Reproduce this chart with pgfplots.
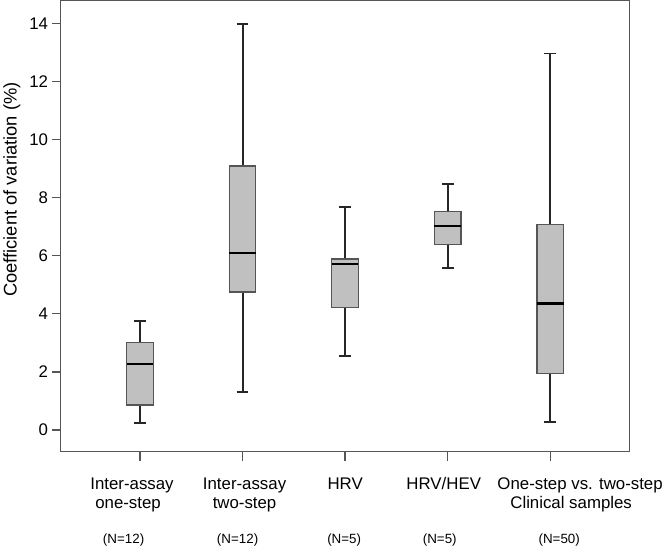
\documentclass[border=0pt]{standalone}
\usepackage{fontspec}
\setmainfont{Liberation Sans}
\usepackage{pgfplots}
\pgfplotsset{compat=1.18}
\usepgfplotslibrary{statistics}
\definecolor{boxgray}{RGB}{192,192,192}
\definecolor{framegray}{RGB}{85,85,85}
\newcommand{\Nf}{\fontsize{13.5}{15}\selectfont}
\newcommand{\R}[1]{\rule{#1}{0pt}}
\begin{document}
\begin{tikzpicture}
\begin{axis}[
  scale only axis,
  width=573bp, height=454bp,
  xmin=0.225, xmax=5.775,
  ymin=-0.75, ymax=14.79,
  ytick={0,2,...,14},
  xtick={1,2,3,4,5},
  xticklabels={
    {\strut Inter-assay\R{16bp}\\one-step\R{24bp}\\[17bp]{\Nf (N=12)}\R{33bp}},
    {\strut \R{4bp}Inter-assay\\\R{4bp}two-step\\[17bp]{\Nf (N=12)}\R{10bp}},
    {\strut HRV\\\strut\\[17bp]{\Nf (N=5)}\R{2bp}},
    {\strut HRV/HEV\R{8bp}\\\strut\\[17bp]{\Nf (N=5)}\R{16bp}},
    {\strut \R{60bp}One-step vs. two-step\\\R{42bp}Clinical samples\\[17bp]\R{18bp}{\Nf (N=50)}}},
  xticklabel style={align=center, anchor=north, font=\fontsize{17}{18.6}\selectfont, yshift=-13bp},
  yticklabel style={font=\fontsize{17}{19}\selectfont},
  /pgf/number format/assume math mode=true,
  tick align=outside,
  major tick length=9bp,
  xtick pos=bottom, ytick pos=left,
  axis line style={draw=framegray, line width=1.3bp},
  every tick/.style={draw=framegray, line width=1.3bp},
  ylabel={Coefficient of variation (\%)},
  ylabel style={at={(axis description cs:-0.0855,0.581)}, anchor=center, font=\fontsize{18.5}{20}\selectfont},
  boxplot/draw direction=y,
  boxplot/box extend=0.26,
  boxplot/whisker extend=0.115,
  boxplot/every box/.style={draw=framegray, line width=1.2bp, fill=boxgray},
  boxplot/every whisker/.style={draw=black!85, line width=1.9bp},
  boxplot/every median/.style={draw=black, line width=2.6bp},
]
\addplot+[mark=none, black, boxplot prepared={draw position=1,
  lower whisker=0.24, lower quartile=0.86, median=2.27, upper quartile=3.01, upper whisker=3.76}]
  coordinates {};
\addplot+[mark=none, black, boxplot prepared={draw position=2,
  lower whisker=1.30, lower quartile=4.75, median=6.10, upper quartile=9.09, upper whisker=13.97}]
  coordinates {};
\addplot+[mark=none, black, boxplot prepared={draw position=3,
  lower whisker=2.56, lower quartile=4.22, median=5.72, upper quartile=5.89, upper whisker=7.69}]
  coordinates {};
\addplot+[mark=none, black, boxplot prepared={draw position=4,
  lower whisker=5.59, lower quartile=6.38, median=7.02, upper quartile=7.53, upper whisker=8.46}]
  coordinates {};
\addplot+[mark=none, black, boxplot prepared={draw position=5,
  lower whisker=0.26, lower quartile=1.94, median=4.35, upper quartile=7.09, upper whisker=12.97}]
  coordinates {};
\end{axis}
\end{tikzpicture}
\end{document}
